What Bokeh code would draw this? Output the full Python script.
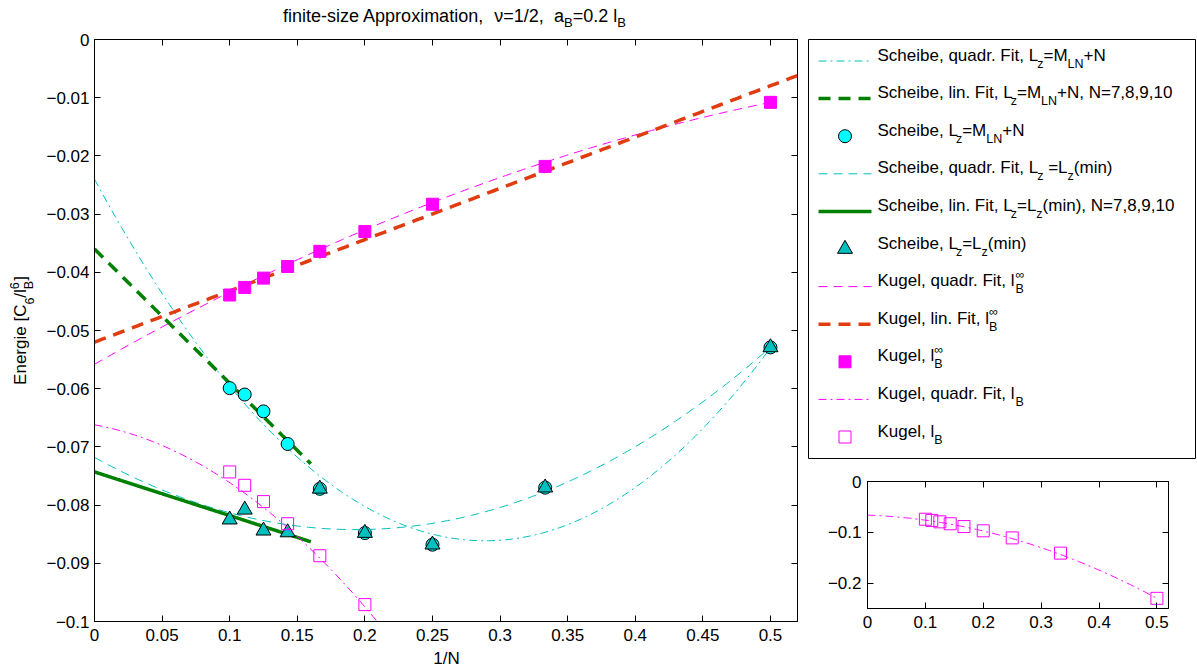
import re
import numpy as np
from bokeh.plotting import figure
from bokeh.models import Range1d, FixedTicker, LinearAxis, CustomJSTickFormatter
from bokeh.layouts import row, column
from bokeh.embed import file_html
from bokeh.resources import INLINE
from bokeh.core.properties import value

# ---------------- data ----------------
inv_N = [1/10, 1/9, 1/8, 1/7, 1/6, 1/5, 1/4, 1/3, 1/2]
kugel_inf = [-0.0439, -0.0426, -0.0410, -0.0390, -0.0364, -0.0330, -0.0283, -0.0218, -0.0108]
scheibe_mln = [-0.0599, -0.0610, -0.0639, -0.0695, -0.0772, -0.0848, -0.0868, -0.0770, -0.0529]
scheibe_min = [-0.0825, -0.0808, -0.0844, -0.0847, -0.0772, -0.0848, -0.0868, -0.0770, -0.0529]
kugel_lb = [-0.0743, -0.0766, -0.0794, -0.0832, -0.0887, -0.0971, -0.111, -0.141, -0.230]

# fit curves: coefficients c0 + c1*x + c2*x^2 and their x extent
fit_scheibe_mln_quad = [-0.0240, -0.430, 0.744]
fit_scheibe_mln_lin = [-0.0360, -0.2306]
fit_scheibe_min_quad = [-0.0718, -0.1285, 0.3327]
fit_scheibe_min_lin = [-0.0743, -0.075]
fit_kugel_inf_quad = [-0.0558, 0.1324, -0.0848]
fit_kugel_inf_lin = [-0.0520, 0.0881]
fit_kugel_lb_quad = [-0.0662, -0.0424, -0.5703]
quad_fit_x = [0.0, 0.5]
lin_fit_x = [0.0, 0.16]
kugel_lin_fit_x = [0.0, 0.52]

x_ticks = [0, 0.05, 0.1, 0.15, 0.2, 0.25, 0.3, 0.35, 0.4, 0.45, 0.5]
y_ticks = [-0.1, -0.09, -0.08, -0.07, -0.06, -0.05, -0.04, -0.03, -0.02, -0.01, 0]
inset_x_ticks = [0, 0.1, 0.2, 0.3, 0.4, 0.5]
inset_y_ticks = [-0.2, -0.1, 0]

FONT = "Liberation Sans"
FS = 17
SFS = 12.5
CYAN = "#00BFBF"
GREEN = "#008000"
MAG = "#FF00FF"
RED = "#E03C10"
BASE_SHIFT = 0.35   # rendered text sits this fraction of its size below the anchor


def poly(c, x):
    x = np.asarray(x)
    return sum(ci * x ** i for i, ci in enumerate(c))


def span(ext, n=200):
    return np.linspace(ext[0], ext[1], n)


# ---------------- text width helper (Arial metrics) ----------------
W = {' ': 278, ',': 278, '.': 278, '/': 278, '(': 333, ')': 333, '-': 333, '+': 584, '=': 584,
     '[': 278, ']': 278, 'A': 667, 'B': 667, 'C': 722, 'E': 667, 'F': 611, 'K': 667, 'L': 556,
     'M': 833, 'N': 722, 'a': 556, 'b': 556, 'c': 500, 'd': 556, 'e': 556, 'f': 278, 'g': 556,
     'h': 556, 'i': 222, 'l': 222, 'm': 833, 'n': 556, 'o': 556, 'p': 556, 'q': 556, 'r': 333,
     's': 500, 't': 278, 'u': 556, 'x': 500, 'z': 500, 'ν': 521, '∞': 713, '−': 584}


def tw(s, fs):
    return sum(W.get(ch, 556) for ch in s) * fs / 1000.0


def pieces(text, fs, x, dy, out):
    # SVG collapses leading/trailing and repeated spaces: split there so spacing is kept
    for piece in re.split(r'( {2,}|^ +| +$)', text):
        if not piece:
            continue
        if piece.isspace():
            x += tw(piece, fs)
        else:
            out.append((x, dy, piece, fs))
            x += tw(piece, fs)
    return x


def rich(segs, fs=FS, sfs=SFS, sub=7.0, sup=7.5):
    out, x = [], 0.0
    for s in segs:
        if s[0] == 'n':
            x = pieces(s[1], fs, x, 0.0, out)
        elif s[0] == '_':
            x = pieces(s[1], sfs, x, sub, out)
        elif s[0] == '^':
            x = pieces(s[1], sfs, x, -sup, out)
        else:
            out.append((x, sub, s[1], sfs)); out.append((x, -sup, s[2], sfs))
            x += max(tw(s[1], sfs), tw(s[2], sfs))
    # compensate the renderer's baseline offset (shift "up" in text space)
    out = [(dx, dy - BASE_SHIFT * s, t, s) for dx, dy, t, s in out]
    return out, x


def draw_parts(fig, items, angle=0.0):
    by_size = {}
    for x, y, t, s in items:
        d = by_size.setdefault(s, ([], [], []))
        d[0].append(x); d[1].append(y); d[2].append(t)
    for s, (xs, ys, ts) in by_size.items():
        fig.text(xs, ys, text=ts, text_font=value(FONT), text_font_size=f"{s}px", text_color="black",
                 text_baseline="alphabetic", text_align="left", angle=angle)


fmt = CustomJSTickFormatter(code="""
const s = (Math.round(tick*10000)/10000).toString();
return s.replace('-', '\\u2212');
""")
blank = CustomJSTickFormatter(code="return '';")


def add_axes(fig, xt, yt, xstand, ystand):
    for side, ticks, lab in (("below", xt, True), ("left", yt, True), ("above", xt, False), ("right", yt, False)):
        ax = LinearAxis(ticker=FixedTicker(ticks=ticks), formatter=fmt if lab else blank)
        ax.major_tick_in = 6
        ax.major_tick_out = 0
        ax.minor_tick_line_color = None
        ax.axis_line_color = "black"
        ax.major_tick_line_color = "black"
        ax.major_label_text_font = FONT
        ax.major_label_text_font_size = f"{FS}px" if lab else "1px"
        ax.major_label_text_color = "black"
        ax.major_label_standoff = (xstand if side == "below" else ystand) if lab else 0
        fig.add_layout(ax, side)


def blank_fig(w, h, xr, yr):
    f = figure(width=w, height=h, x_range=Range1d(*xr), y_range=Range1d(*yr), output_backend="svg",
               toolbar_location=None, x_axis_type=None, y_axis_type=None, min_border=0)
    f.outline_line_color = None
    f.background_fill_color = "white"
    f.border_fill_color = "white"
    f.frame_align = False
    return f


# page geometry
TITLE_H = 29
XLAB_H = 22
YLAB_W = 40
FRAME_L, FRAME_T, FRAME_B = 94, 39, 621

# ---------------- main plot ----------------
main_h = 670 - TITLE_H - XLAB_H
p = figure(width=805 - YLAB_W, height=main_h, x_range=Range1d(0, 0.52), y_range=Range1d(-0.1, 0),
           output_backend="svg", toolbar_location=None, x_axis_type=None, y_axis_type=None,
           min_border_left=FRAME_L - YLAB_W, min_border_right=8, min_border_top=FRAME_T - TITLE_H,
           min_border_bottom=main_h - (FRAME_B - TITLE_H))
p.frame_align = False
p.outline_line_color = "black"
p.outline_line_width = 1
p.background_fill_color = "white"
p.border_fill_color = "white"
add_axes(p, x_ticks, y_ticks, 7, 5)

xq = span(quad_fit_x)
xl = span(lin_fit_x)
xk = span(kugel_lin_fit_x)
p.line(xq, poly(fit_scheibe_mln_quad, xq), line_color=CYAN, line_width=1, line_dash="8 4 2 4")
p.line(xl, poly(fit_scheibe_mln_lin, xl), line_color=GREEN, line_width=3.5, line_dash="12 8")
p.scatter(inv_N, scheibe_mln, marker="circle", size=13, fill_color="#00FFFF", line_color="black", line_width=1)
p.line(xq, poly(fit_scheibe_min_quad, xq), line_color=CYAN, line_width=1, line_dash="9 6")
p.line(xl, poly(fit_scheibe_min_lin, xl), line_color=GREEN, line_width=3.5)
p.scatter(inv_N, scheibe_min, marker="triangle", size=15, fill_color=CYAN, line_color="black", line_width=1)
p.line(xq, poly(fit_kugel_inf_quad, xq), line_color=MAG, line_width=1, line_dash="9 6")
p.line(xk, poly(fit_kugel_inf_lin, xk), line_color=RED, line_width=3.5, line_dash="12 8")
p.scatter(inv_N, kugel_inf, marker="square", size=12, fill_color=MAG, line_color=MAG, line_width=1)
p.line(xq, poly(fit_kugel_lb_quad, xq), line_color=MAG, line_width=1, line_dash="8 4 2 4")
p.scatter(inv_N, kugel_lb, marker="square", size=12, fill_color=None, line_color=MAG, line_width=1)

# ---------------- title / axis-label strips (page pixel coordinates) ----------------
tf = blank_fig(805, TITLE_H, (0, 805), (TITLE_H, 0))
parts, tot = rich([('n', "finite-size Approximation,  ν=1/2,  a"), ('_', "B"), ('n', "=0.2 l"), ('_', "B")],
                  fs=18, sfs=13, sub=4.5)
x0 = 454 - tot / 2
draw_parts(tf, [(x0 + dx, 22 + dy, t, s) for dx, dy, t, s in parts])

xf = blank_fig(805, XLAB_H, (0, 805), (670, 670 - XLAB_H))
parts, tot = rich([('n', "1/N")])
draw_parts(xf, [(446 - tot / 2 + dx, 664 + dy, t, s) for dx, dy, t, s in parts])

yf = blank_fig(YLAB_W, main_h, (0, YLAB_W), (-(TITLE_H + main_h), -TITLE_H))
parts, tot = rich([('n', "Energie [C"), ('_', "6"), ('n', "/l"), ('_^', "B", "6"), ('n', "]")])
start = 330 + tot / 2
draw_parts(yf, [(26 + dy, -(start - dx), t, s) for dx, dy, t, s in parts], angle=np.pi / 2)

# ---------------- legend panel ----------------
lf = blank_fig(392, 465, (805, 1197), (465, 0))
lf.quad(left=[808], right=[1195], top=[39], bottom=[458], fill_color="white", line_color="black", line_width=1)

legend_rows = [
    ([('n', "Scheibe, quadr. Fit, L"), ('_', "z"), ('n', "=M"), ('_', "LN"), ('n', "+N")],
     dict(kind="line", color=CYAN, width=1, dash="8 4 2 4")),
    ([('n', "Scheibe, lin. Fit, L"), ('_', "z"), ('n', "=M"), ('_', "LN"), ('n', "+N, N=7,8,9,10")],
     dict(kind="line", color=GREEN, width=3.5, dash="12 8")),
    ([('n', "Scheibe, L"), ('_', "z"), ('n', "=M"), ('_', "LN"), ('n', "+N")],
     dict(kind="marker", marker="circle", size=13, fill="#00FFFF", line="black")),
    ([('n', "Scheibe, quadr. Fit, L"), ('_', "z"), ('n', " =L"), ('_', "z"), ('n', "(min)")],
     dict(kind="line", color=CYAN, width=1, dash="9 6")),
    ([('n', "Scheibe, lin. Fit, L"), ('_', "z"), ('n', "=L"), ('_', "z"), ('n', "(min), N=7,8,9,10")],
     dict(kind="line", color=GREEN, width=3.5, dash="solid")),
    ([('n', "Scheibe, L"), ('_', "z"), ('n', "=L"), ('_', "z"), ('n', "(min)")],
     dict(kind="marker", marker="triangle", size=15, fill=CYAN, line="black")),
    ([('n', "Kugel, quadr. Fit, l"), ('_^', "B", "∞")],
     dict(kind="line", color=MAG, width=1, dash="9 6")),
    ([('n', "Kugel, lin. Fit, l"), ('_^', "B", "∞")],
     dict(kind="line", color=RED, width=3.5, dash="12 8")),
    ([('n', "Kugel, l"), ('_^', "B", "∞")],
     dict(kind="marker", marker="square", size=12, fill=MAG, line=MAG)),
    ([('n', "Kugel, quadr. Fit, l"), ('_', "B")],
     dict(kind="line", color=MAG, width=1, dash="8 4 2 4")),
    ([('n', "Kugel, l"), ('_', "B")],
     dict(kind="marker", marker="square", size=12, fill=None, line=MAG)),
]

ROW0, ROWH = 60.5, 37.6
TX = 877
items = []
for i, (segs, st) in enumerate(legend_rows):
    b = ROW0 + ROWH * i
    if st["kind"] == "line":
        lf.line([818, 871], [b, b], line_color=st["color"], line_width=st["width"], line_dash=st["dash"])
    else:
        lf.scatter([844.5], [b], marker=st["marker"], size=st["size"], fill_color=st["fill"],
                   line_color=st["line"], line_width=1)
    parts, _ = rich(segs)
    items += [(TX + dx, b + dy, t, s) for dx, dy, t, s in parts]
draw_parts(lf, items)

# ---------------- inset ----------------
ins = figure(width=392, height=205, x_range=Range1d(0, 0.52), y_range=Range1d(-0.25, 0),
             output_backend="svg", toolbar_location=None, x_axis_type=None, y_axis_type=None,
             min_border_left=62, min_border_right=29, min_border_top=16, min_border_bottom=62)
ins.frame_align = False
ins.outline_line_color = "black"
ins.background_fill_color = "white"
ins.border_fill_color = "white"
add_axes(ins, inset_x_ticks, inset_y_ticks, 7, 6)
ins.line(xq, poly(fit_kugel_lb_quad, xq), line_color=MAG, line_width=1, line_dash="8 4 2 4")
ins.scatter(inv_N, kugel_lb, marker="square", size=12, fill_color=None, line_color=MAG, line_width=1)

left = column(tf, row(yf, p, spacing=0), xf, spacing=0)
right = column(lf, ins, spacing=0)
layout = row(left, right, spacing=0)
open("out.html", "w").write(file_html(layout, INLINE))
